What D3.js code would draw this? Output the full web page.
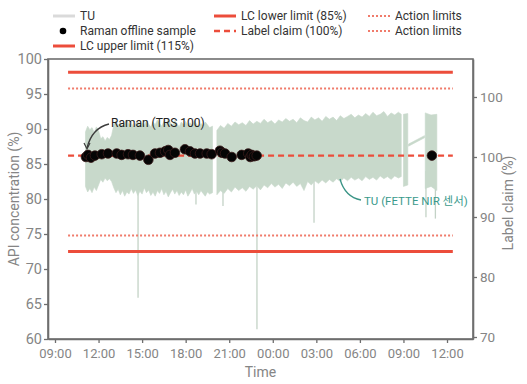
<!DOCTYPE html>
<html><head><meta charset="utf-8">
<script src="https://cdn.jsdelivr.net/npm/d3@7"></script>
<style>
body{margin:0;background:#fff;}
text{font-family:Roboto,"Noto Sans CJK KR",sans-serif;}
</style></head>
<body><svg id="c" width="527" height="384"></svg>
<script>
// ---- data (hours since 00:00 of day 1) ----
const xTickHours = [9,12,15,18,21,24,27,30,33,36];
const yTicks = [60,65,70,75,80,85,90,95,100];
const y2Ticks = [110,100,90,80,70];
const y2TickLabels = ["100","100","90","80","70"];

// TU (FETTE NIR) envelope, run A
const tuHoursA = [11.10,11.25,11.40,11.55,11.70,11.85,12.00,12.15,12.30,12.45,12.60,12.75,12.90,13.05,13.20,13.35,13.50,13.65,13.80,13.95,14.10,14.25,14.40,14.55,14.70,14.85,15.00,15.15,15.30,15.45,15.60,15.75,15.90,16.05,16.20,16.35,16.50,16.65,16.80,16.95,17.10,17.25,17.40,17.55,17.70,17.85,18.00,18.15,18.30,18.45,18.60,18.75,18.90,19.05,19.20,19.35,19.50,19.65,19.85];
const tuHighA = [89.6,90.4,89.9,90.2,89.5,90.3,89.8,88.6,88.9,88.3,88.8,88.5,89.1,90.6,91.2,90.5,91.0,90.3,90.9,91.3,90.6,91.0,90.2,90.8,91.1,90.4,90.9,90.5,91.2,90.7,90.3,91.0,90.6,91.3,90.8,90.4,91.1,90.7,91.4,90.9,90.5,91.2,90.8,90.3,91.0,90.6,91.1,90.4,90.9,90.5,91.2,90.7,90.3,90.8,90.5,91.0,90.6,90.2,90.4];
const tuLowA = [81.8,81.0,81.5,80.9,81.7,81.2,82.0,82.8,82.4,83.0,82.6,82.9,82.5,81.6,80.9,81.4,80.6,81.2,80.4,81.0,80.7,81.5,80.8,81.3,80.5,81.1,80.7,81.6,80.9,81.3,80.5,81.0,80.4,81.2,80.8,81.5,80.6,81.1,80.3,80.9,81.4,80.7,81.2,80.5,81.0,80.6,81.3,80.4,80.9,81.5,80.7,81.1,80.6,81.2,80.8,80.4,81.0,80.7,80.9];
// run B
const tuHoursB = [20.15,20.40,20.65,20.90,21.15,21.40,21.65,21.90,22.15,22.40,22.65,22.90,23.15,23.40,23.65,23.90,24.15,24.40,24.65,24.90,25.15,25.40,25.65,25.90,26.15,26.40,26.65,26.90,27.15,27.40,27.65,27.90,28.15,28.40,28.65,28.90,29.15,29.40,29.65,29.90,30.15,30.40,30.65,30.90,31.15,31.40,31.65,31.90,32.15,32.40,32.65,32.85];
const tuHighB = [89.8,90.5,90.1,90.8,90.4,91.0,90.6,90.9,90.5,91.2,90.7,91.1,90.8,91.4,90.9,91.2,90.7,91.3,91.0,91.5,91.1,91.4,90.9,91.6,91.2,91.0,91.7,91.3,91.6,91.1,91.8,91.4,91.7,91.2,91.9,91.5,91.8,92.1,91.6,92.0,91.7,92.2,91.8,92.4,91.9,92.1,92.5,91.8,92.3,92.0,92.4,92.1];
const tuLowB = [80.6,81.2,80.8,81.5,81.0,81.7,81.2,81.6,81.1,81.8,81.4,81.9,81.3,82.0,81.6,82.2,81.7,82.1,81.5,82.3,81.9,82.4,81.8,82.2,81.2,82.5,82.0,82.6,82.2,82.7,82.3,82.8,82.4,82.9,82.5,83.0,82.6,83.1,82.7,83.0,82.6,83.2,82.8,83.1,82.7,83.3,82.9,83.2,82.8,83.3,83.0,83.2];
// short runs C, connector, D
const tuHoursC = [33.0,33.3], tuHighC = [92.1,92.2], tuLowC = [81.8,82.0];
const tuHoursJ = [33.35,34.45], tuHighJ = [87.85,89.05], tuLowJ = [87.55,88.75];
const tuHoursD = [34.5,34.9,35.3], tuHighD = [92.3,92.0,92.1], tuLowD = [81.5,81.8,81.2];
// downward spikes of TU
const spikeHours = [14.72,18.71,20.57,22.91,26.84,34.55,35.2];
const spikeMin   = [65.9,79.2,79.0,61.4,76.6,77.4,77.2];

// Raman offline samples
const ramanHours = [11.13,11.27,11.48,11.75,12.22,12.65,13.25,13.59,14.03,14.37,14.85,15.43,15.89,16.23,16.58,16.80,16.92,17.26,17.95,18.30,18.64,18.99,19.45,19.79,20.36,20.50,20.71,21.17,21.86,22.31,22.45,22.55,22.70,22.89,34.96];
const ramanValue = [86.0,86.3,85.9,86.2,86.4,86.5,86.5,86.3,86.4,86.3,86.2,85.6,86.5,86.6,86.8,87.0,86.3,86.6,87.1,86.8,86.5,86.5,86.5,86.4,86.9,86.6,86.5,86.0,86.3,86.5,86.0,86.3,86.1,86.2,86.2];

// limit lines (API concentration %)
const limitNames  = ["LC upper limit (115%)","Action limits","Label claim (100%)","Action limits","LC lower limit (85%)"];
const limitValues = [98.1,95.8,86.2,74.8,72.5];
const limitKinds  = ["solid","dotted","dashed","dotted","solid"];
const limitSpan = [9.9,36.4];

// ---- drawing ----
const svg = d3.select("#c");
const t0 = new Date(2024,0,1,0,0,0);
const toDate = h => new Date(t0.getTime() + h*3600e3);
const L=48,R=473,T=59,B=339;
const x = d3.scaleTime().domain([toDate(8.518),toDate(37.79)]).range([L,R]);
const y = d3.scaleLinear().domain([60,100]).range([B,T]);
const y2 = d3.scaleLinear().domain([69.667,116.333]).range([B,T]);

const red="#ec4d3b", redLight="#f07b6b", tuCol="#c8d9cb", axisCol="#6e6e6e", tickCol="#858585";
const styleOf = k => k==="solid"?{w:3,c:red,d:null}:k==="dashed"?{w:2.4,c:red,d:"6,4"}:{w:2,c:redLight,d:"2,2"};

// TU spikes
svg.append("g").selectAll("line").data(spikeHours).join("line")
  .attr("x1",(d)=>x(toDate(d))).attr("x2",(d)=>x(toDate(d)))
  .attr("y1",y(84)).attr("y2",(d,i)=>y(spikeMin[i]))
  .attr("stroke","#c3d2c6").attr("stroke-width",1.3);

// TU band
const area = d3.area().x(d=>x(toDate(d.h))).y0(d=>y(d.lo)).y1(d=>y(d.hi));
const runs = [[tuHoursA,tuHighA,tuLowA],[tuHoursB,tuHighB,tuLowB],[tuHoursC,tuHighC,tuLowC],[tuHoursJ,tuHighJ,tuLowJ],[tuHoursD,tuHighD,tuLowD]];
svg.append("g").selectAll("path").data(runs.map(r=>r[0].map((h,i)=>({h,hi:r[1][i],lo:r[2][i]})))).join("path")
  .attr("d",area).attr("fill",tuCol).attr("stroke",tuCol).attr("stroke-width",0.6);

// limit lines
svg.append("g").selectAll("line").data(limitValues).join("line")
  .attr("x1",x(toDate(limitSpan[0]))).attr("x2",x(toDate(limitSpan[1])))
  .attr("y1",d=>y(d)).attr("y2",d=>y(d))
  .each(function(d,i){const s=styleOf(limitKinds[i]);d3.select(this).attr("stroke",s.c).attr("stroke-width",s.w).attr("stroke-dasharray",s.d);});

// Raman dots
svg.append("g").selectAll("circle").data(ramanHours).join("circle")
  .attr("cx",d=>x(toDate(d))).attr("cy",(d,i)=>y(ramanValue[i])).attr("r",4.8)
  .attr("fill","#050505").attr("stroke","#3a1a1a").attr("stroke-width",0.8);

// frame
svg.append("rect").attr("x",L).attr("y",T).attr("width",R-L).attr("height",B-T)
  .attr("fill","none").attr("stroke",axisCol).attr("stroke-width",1.6);

// axes
const gx = svg.append("g").attr("transform",`translate(0,${B})`)
  .call(d3.axisBottom(x).tickValues(xTickHours.map(toDate)).tickFormat(d3.timeFormat("%H:%M")).tickSize(4).tickSizeOuter(0));
const gy = svg.append("g").attr("transform",`translate(${L},0)`)
  .call(d3.axisLeft(y).tickValues(yTicks).tickSize(4).tickSizeOuter(0));
const gy2 = svg.append("g").attr("transform",`translate(${R},0)`)
  .call(d3.axisRight(y2).tickValues(y2Ticks).tickFormat((d,i)=>y2TickLabels[i]).tickSize(4).tickSizeOuter(0));
[gx,gy,gy2].forEach(g=>{
  g.select(".domain").attr("stroke",axisCol).attr("stroke-width",1.6);
  g.selectAll(".tick line").attr("stroke",axisCol).attr("stroke-width",1.3);
  g.selectAll(".tick text").attr("fill",tickCol).style("font-size","13px").style("font-family","Roboto");
});
gx.selectAll(".tick text").attr("dy","0.9em");
gy.selectAll(".tick text").style("font-size","14.5px").attr("dx","1px");
gy2.selectAll(".tick text").style("font-size","13.5px");

// axis titles
svg.append("text").attr("x",(L+R)/2).attr("y",377).attr("text-anchor","middle")
  .attr("fill",tickCol).style("font-size","14px").text("Time");
svg.append("text").attr("transform",`translate(19,${(T+B)/2}) rotate(-90)`).attr("text-anchor","middle")
  .attr("fill",tickCol).style("font-size","14px").text("API concentration (%)");
svg.append("text").attr("transform",`translate(513,${(T+B)/2+4}) rotate(-90)`).attr("text-anchor","middle")
  .attr("fill",tickCol).style("font-size","14px").text("Label claim (%)");

// annotations
svg.append("path").attr("d","M109,124 Q92,128 87,148").attr("fill","none").attr("stroke","#3c3c3c").attr("stroke-width",1.3);
svg.append("path").attr("d","M84,143 L87,149 L90,143").attr("fill","none").attr("stroke","#3c3c3c").attr("stroke-width",1.2);
svg.append("text").attr("x",111).attr("y",127).attr("fill","#222").style("font-size","12px").text("Raman (TRS 100)");
svg.append("path").attr("d","M361,200 Q345,197 340,179").attr("fill","none").attr("stroke","#3a9486").attr("stroke-width",1.3);
svg.append("text").attr("x",364).attr("y",205).attr("fill","#3a9a8c").style("font-size","11.5px").text("TU (FETTE NIR 센서)");

// legend
const leg = [
  {x:53,y:16,label:"TU",kind:"tu"},
  {x:53,y:31,label:"Raman offline sample",kind:"dot"},
  {x:53,y:46,label:"LC upper limit (115%)",kind:"solid"},
  {x:214,y:16,label:"LC lower limit (85%)",kind:"solid"},
  {x:214,y:31,label:"Label claim (100%)",kind:"dashed"},
  {x:368,y:16,label:"Action limits",kind:"dotted"},
  {x:368,y:31,label:"Action limits",kind:"dotted"}
];
const lg = svg.append("g");
leg.forEach(d=>{
  if(d.kind==="tu") lg.append("line").attr("x1",d.x).attr("x2",d.x+22).attr("y1",d.y).attr("y2",d.y).attr("stroke","#dadada").attr("stroke-width",3);
  else if(d.kind==="dot") lg.append("circle").attr("cx",d.x+10).attr("cy",d.y).attr("r",3.3).attr("fill","#000");
  else {const s=styleOf(d.kind); lg.append("line").attr("x1",d.x).attr("x2",d.x+22).attr("y1",d.y).attr("y2",d.y).attr("stroke",s.c).attr("stroke-width",s.w).attr("stroke-dasharray",s.d);}
  lg.append("text").attr("x",d.x+27).attr("y",d.y+4.3).attr("fill","#333").style("font-size","12px").text(d.label);
});
</script></body></html>
